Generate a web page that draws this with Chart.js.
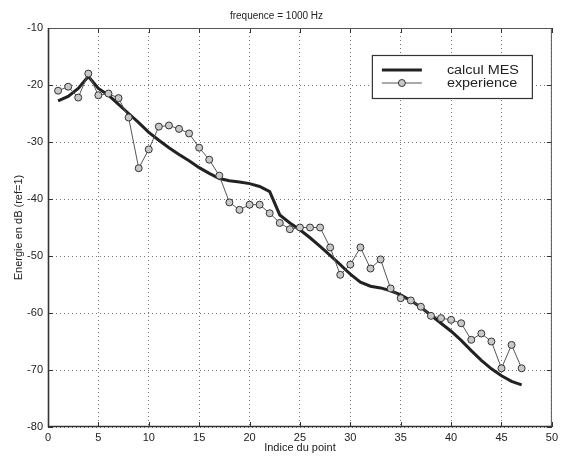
<!DOCTYPE html>
<html>
<head>
<meta charset="utf-8">
<script src="https://cdn.jsdelivr.net/npm/chart.js@4.4.1/dist/chart.umd.min.js"></script>
<style>
  html, body { margin: 0; padding: 0; background: #fff; }
  #wrap { width: 562px; height: 458px; }
</style>
</head>
<body>
<div id="wrap"><canvas id="c" width="562" height="458"></canvas></div>
<script>
// ---- Data ----
const chartTitle = "frequence = 1000 Hz";
const xTitle = "Indice du point";
const yTitle = "Energie en dB (ref=1)";
const seriesNames = ["calcul MES", "experience"];

const pointIndex = [1,2,3,4,5,6,7,8,9,10,11,12,13,14,15,16,17,18,19,20,21,22,23,24,25,26,27,28,29,30,31,32,33,34,35,36,37,38,39,40,41,42,43,44,45,46,47];

const calculMES = [-22.8,-22.0,-20.6,-18.5,-20.6,-21.8,-23.4,-25.0,-26.6,-28.3,
                   -29.7,-31.0,-32.2,-33.3,-34.5,-35.5,-36.4,-36.8,-37.0,-37.3,
                   -37.8,-38.7,-42.8,-44.2,-45.4,-46.8,-48.3,-49.9,-51.5,-53.2,
                   -54.6,-55.3,-55.6,-56.1,-56.8,-57.8,-59.0,-60.4,-61.8,-63.2,
                   -64.8,-66.6,-68.3,-69.8,-71.0,-72.0,-72.6];

const experience = [-21.0,-20.3,-22.2,-18.0,-21.8,-21.5,-22.3,-25.7,-34.6,-31.3,
                    -27.3,-27.1,-27.7,-28.5,-31.0,-33.1,-35.9,-40.6,-41.9,-41.0,
                    -41.0,-42.5,-44.2,-45.3,-45.0,-45.0,-45.0,-48.5,-53.3,-51.5,
                    -48.5,-52.2,-50.6,-55.7,-57.4,-57.8,-58.9,-60.5,-60.9,-61.2,
                    -61.8,-64.7,-63.6,-65.0,-69.7,-65.6,-69.7];

const xTicks = [0,5,10,15,20,25,30,35,40,45,50];
const yTicks = [-80,-70,-60,-50,-40,-30,-20,-10];

// ---- Build ----
const FONT = "'Liberation Sans', Arial, Helvetica, sans-serif";
const toXY = (ys) => pointIndex.map((x, i) => ({ x: x, y: ys[i] }));

const frameTicks = {
  id: 'frameTicks',
  afterDraw(chart) {
    const ctx = chart.ctx, a = chart.chartArea;
    const xs = chart.scales.x, ys = chart.scales.y;
    ctx.save();
    ctx.strokeStyle = '#333';
    ctx.lineWidth = 1;
    ctx.setLineDash([]);
    const L = 5;
    xs.ticks.forEach(t => {
      const p = Math.round(xs.getPixelForValue(t.value)) + 0.5;
      ctx.beginPath();
      ctx.moveTo(p, a.bottom); ctx.lineTo(p, a.bottom - L);
      ctx.moveTo(p, a.top); ctx.lineTo(p, a.top + L);
      ctx.stroke();
    });
    ys.ticks.forEach(t => {
      const p = Math.round(ys.getPixelForValue(t.value)) + 0.5;
      ctx.beginPath();
      ctx.moveTo(a.left, p); ctx.lineTo(a.left + L, p);
      ctx.moveTo(a.right, p); ctx.lineTo(a.right - L, p);
      ctx.stroke();
    });
    // frame
    ctx.strokeStyle = '#555';
    ctx.lineWidth = 1;
    ctx.strokeRect(a.left + 0.5, a.top + 0.5, a.right - a.left - 1, a.bottom - a.top - 1);
    ctx.strokeStyle = '#333';
    ctx.lineWidth = 1.6;
    ctx.beginPath();
    ctx.moveTo(a.left + 0.5, a.top);
    ctx.lineTo(a.left + 0.5, a.bottom - 0.5);
    ctx.lineTo(a.right, a.bottom - 0.5);
    ctx.stroke();

    // legend box (inside plot area, top-right)
    const bx = a.right - 180, by = a.top + 27, bw = 160, bh = 43;
    ctx.fillStyle = '#fff';
    ctx.fillRect(bx, by, bw, bh);
    ctx.strokeStyle = '#333';
    ctx.lineWidth = 1.2;
    ctx.strokeRect(bx + 0.5, by + 0.5, bw, bh);
    const ds = chart.data.datasets;
    const rows = [by + 15, by + 28];
    ds.forEach((d, i) => {
      const y = rows[i];
      ctx.strokeStyle = d.borderColor;
      ctx.lineWidth = d.borderWidth;
      ctx.beginPath();
      ctx.moveTo(bx + 10, y); ctx.lineTo(bx + 50, y);
      ctx.stroke();
      if (d.pointRadius > 0) {
        ctx.beginPath();
        ctx.arc(bx + 30, y, d.pointRadius, 0, Math.PI * 2);
        ctx.fillStyle = d.pointBackgroundColor;
        ctx.fill();
        ctx.lineWidth = d.pointBorderWidth;
        ctx.strokeStyle = d.pointBorderColor;
        ctx.stroke();
      }
      ctx.save();
      ctx.translate(bx + 75, y);
      ctx.scale(1.2, 1);
      ctx.fillStyle = '#222';
      ctx.font = '12px ' + FONT;
      ctx.textBaseline = 'middle';
      ctx.textAlign = 'left';
      ctx.fillText(d.label, 0, 1);
      ctx.restore();
    });
    ctx.restore();
  }
};

new Chart(document.getElementById('c'), {
  type: 'line',
  data: {
    datasets: [
      {
        label: seriesNames[0],
        data: toXY(calculMES),
        borderColor: '#222',
        borderWidth: 3,
        pointRadius: 0,
        pointBackgroundColor: '#222',
        pointBorderColor: '#222',
        pointBorderWidth: 0,
        tension: 0,
        order: 2
      },
      {
        label: seriesNames[1],
        data: toXY(experience),
        borderColor: '#555',
        borderWidth: 1,
        pointRadius: 3.5,
        pointStyle: 'circle',
        pointBackgroundColor: '#c8c8c8',
        pointBorderColor: '#333',
        pointBorderWidth: 1,
        tension: 0,
        order: 1
      }
    ]
  },
  options: {
    responsive: false,
    animation: false,
    devicePixelRatio: 1,
    layout: { padding: { left: 0, right: 9, top: 0, bottom: 0 } },
    plugins: {
      legend: { display: false },
      tooltip: { enabled: false },
      title: {
        display: true,
        text: chartTitle,
        color: '#222',
        font: { family: FONT, size: 10, weight: 'normal' },
        padding: { top: 10, bottom: 6 }
      }
    },
    scales: {
      x: {
        type: 'linear',
        min: 0, max: 50,
        afterBuildTicks: (s) => { s.ticks = xTicks.map(v => ({ value: v })); },
        afterFit: (s) => { s.height = 31; },
        grid: { color: '#777', lineWidth: 1, drawTicks: false },
        border: { display: false, dash: [1, 3] },
        ticks: { color: '#222', padding: 4, maxRotation: 0, font: { family: FONT, size: 11 } },
        title: { display: true, text: xTitle, color: '#222', padding: { top: 0, bottom: 3 }, font: { family: FONT, size: 11 } }
      },
      y: {
        type: 'linear',
        min: -80, max: -10,
        afterBuildTicks: (s) => { s.ticks = yTicks.map(v => ({ value: v })); },
        afterFit: (s) => { s.width = 48; },
        grid: { color: '#777', lineWidth: 1, drawTicks: false },
        border: { display: false, dash: [1, 3] },
        ticks: { color: '#222', padding: 5, font: { family: FONT, size: 11 } },
        title: { display: true, text: yTitle, color: '#222', padding: { top: 12, bottom: 0 }, font: { family: FONT, size: 11 } }
      }
    }
  },
  plugins: [frameTicks]
});
</script>
</body>
</html>
